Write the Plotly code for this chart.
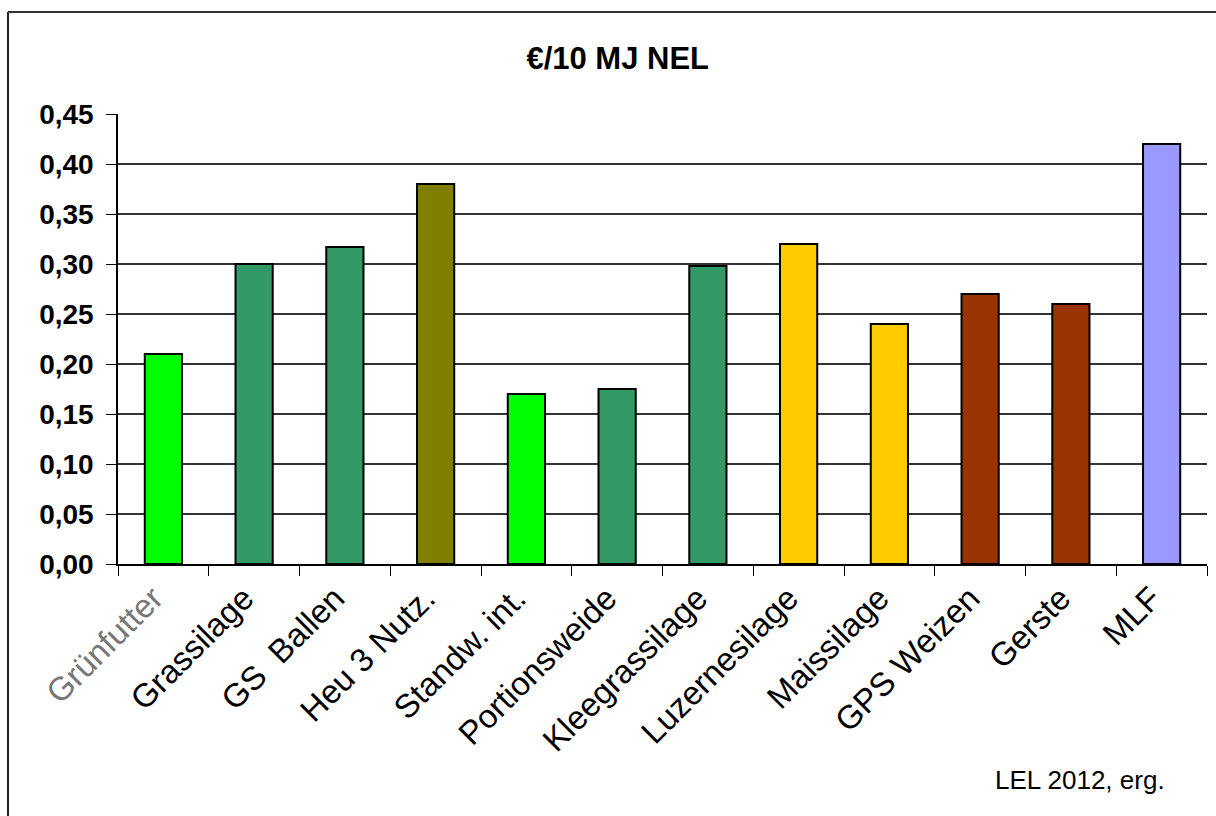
import plotly.graph_objects as go

# Futterkosten in Euro je 10 MJ NEL
categories = ["Grünfutter", "Grassilage", "GS  Ballen", "Heu 3 Nutz.", "Standw. int.",
              "Portionsweide", "Kleegrassilage", "Luzernesilage", "Maissilage",
              "GPS Weizen", "Gerste", "MLF"]
values = [0.21, 0.30, 0.317, 0.38, 0.17, 0.175, 0.298, 0.32, 0.24, 0.27, 0.26, 0.42]
bar_colors = ["#00FF00", "#339966", "#339966", "#808000", "#00FF00", "#339966",
              "#339966", "#FFCC00", "#FFCC00", "#993300", "#993300", "#9999FF"]
y_ticks = [0.00, 0.05, 0.10, 0.15, 0.20, 0.25, 0.30, 0.35, 0.40, 0.45]
y_ticktext = [f"<b>{v:.2f}</b>".replace(".", ",") for v in y_ticks]
x_ticktext = ['<span style="color:#777777">Grünfutter</span>'] + categories[1:]

FONT = "Liberation Sans, Arial, sans-serif"

fig = go.Figure(
    go.Bar(
        x=categories,
        y=values,
        marker=dict(color=bar_colors, line=dict(color="#000000", width=2)),
        hoverinfo="x+y",
    )
)

fig.update_layout(
    width=1216,
    height=816,
    margin=dict(l=118, r=9, t=114, b=252),
    paper_bgcolor="white",
    plot_bgcolor="white",
    bargap=0.59,
    showlegend=False,
    font=dict(family=FONT, color="#000000"),
    title=dict(
        text="<b>€/10 MJ NEL</b>",
        font=dict(family=FONT, size=31, color="#000000"),
        xref="container", x=0.508, xanchor="center",
        yref="container", y=1 - 58 / 816, yanchor="middle",
    ),
    xaxis=dict(
        type="category",
        tickmode="array",
        tickvals=categories,
        ticktext=x_ticktext,
        tickangle=-45,
        tickfont=dict(family=FONT, size=33, color="#000000"),
        ticklabelshift=-10,
        showline=True, linecolor="#000000", linewidth=1.5,
        ticks="outside", ticklen=10, tickcolor="#000000", tickwidth=1,
        tickson="boundaries",
        showgrid=False,
        zeroline=False,
    ),
    yaxis=dict(
        range=[0, 0.45],
        tickmode="array",
        tickvals=y_ticks,
        ticktext=y_ticktext,
        tickfont=dict(family=FONT, size=28, color="#000000"),
        showline=True, linecolor="#000000", linewidth=1.5,
        ticks="outside", ticklen=10, tickcolor="#000000", tickwidth=1,
        ticklabelstandoff=7,
        showgrid=True, gridcolor="#333333", gridwidth=1.5,
        zeroline=False,
    ),
    shapes=[
        # outer chart frame
        dict(type="line", xref="paper", yref="paper",
             x0=-110 / 1089, x1=-110 / 1089, y0=(564 - 816) / 450, y1=(564 - 12) / 450,
             line=dict(color="#222222", width=2)),
        dict(type="line", xref="paper", yref="paper",
             x0=-110 / 1089, x1=(1216 - 118) / 1089, y0=(564 - 12) / 450, y1=(564 - 12) / 450,
             line=dict(color="#333333", width=2)),
    ],
    annotations=[
        dict(text="LEL 2012, erg.", xref="paper", yref="paper",
             x=(1167 - 118) / 1089, xanchor="right",
             y=(564 - 780) / 450, yanchor="middle",
             showarrow=False, font=dict(family=FONT, size=26, color="#000000")),
    ],
)

fig.write_html("out.html")
